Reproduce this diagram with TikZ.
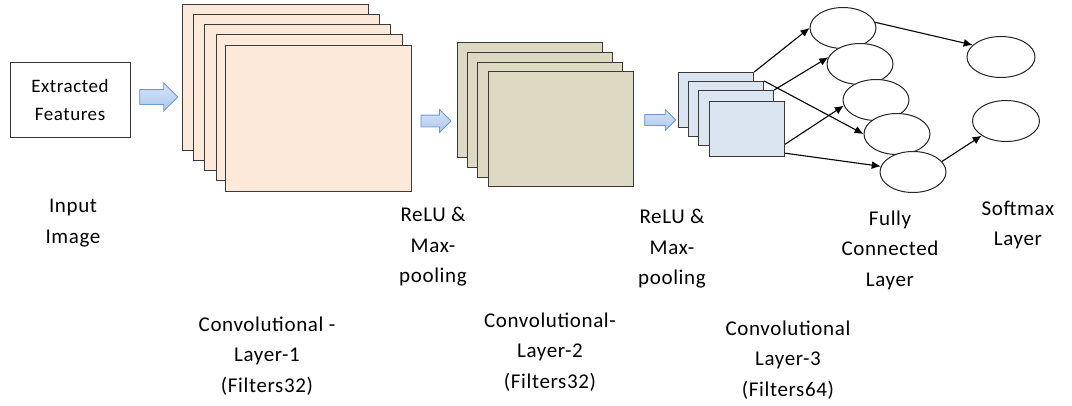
\documentclass[tikz,border=0pt]{standalone}
\usepackage{fontspec}
\setmainfont{Carlito}[LetterSpace=3]
\usetikzlibrary{shapes.geometric,shapes.arrows,arrows.meta,calc}
\definecolor{peach}{HTML}{FDE9D9}
\definecolor{khaki}{HTML}{DDD9C3}
\definecolor{paleblue}{HTML}{DBE5F1}
\definecolor{arrowfill}{HTML}{A9C6EE}
\definecolor{arrowdraw}{HTML}{6F98CF}
\definecolor{edgegray}{HTML}{3A3A3A}
\begin{document}
\begin{tikzpicture}[x=1pt,y=-1pt,
  fmap/.style={draw=edgegray, line width=1.2pt, anchor=north west, inner sep=0pt},
  fm1/.style={fmap, fill=peach, minimum width=186pt, minimum height=146pt},
  fm2/.style={fmap, fill=khaki, minimum width=145pt, minimum height=115pt},
  fm3/.style={fmap, fill=paleblue, minimum width=75pt, minimum height=55pt},
  barrow/.style={single arrow, draw=arrowdraw, line width=0.8pt, top color=arrowfill!45!white, bottom color=arrowfill, inner xsep=0pt},
  neuron/.style={ellipse, draw=black!85, line width=1pt, fill=white, minimum width=66pt, minimum height=41pt, inner sep=0pt},
  conn/.style={-{Latex[length=9pt,width=8pt]}, line width=1.1pt, black},
  lbl/.style={align=center, inner sep=0pt, font=\fontsize{21}{30.5}\selectfont}
]
\useasboundingbox (0,0) rectangle (1072,405);

% input box
\node[draw=black!80, line width=1pt, minimum width=120pt, minimum height=75pt, inner sep=0pt,
      align=center, font=\fontsize{19}{28}\selectfont] (inbox) at (70,99.5) {Extracted\\Features};

% block arrows
\node[barrow, minimum height=38pt, inner ysep=7pt, single arrow head extend=6.5pt] (ar1) at (155,97) {};
\node[barrow, minimum height=30pt, inner ysep=5.5pt, single arrow head extend=5.5pt] (ar2) at (433,121) {};
\node[barrow, minimum height=31pt, inner ysep=5pt, single arrow head extend=5pt] (ar3) at (657.5,120) {};

% conv layer 1
\node[fm1] (c1a) at (182,4) {};
\node[fm1] (c1b) at (193,14) {};
\node[fm1] (c1c) at (204,24) {};
\node[fm1] (c1d) at (216,34) {};
\node[fm1] (c1e) at (225,45) {};

% conv layer 2
\node[fm2] (c2a) at (457,42) {};
\node[fm2] (c2b) at (467,52) {};
\node[fm2] (c2c) at (477,62) {};
\node[fm2] (c2d) at (488,71) {};

% conv layer 3
\node[fm3] (c3a) at (678,72) {};
\node[fm3] (c3b) at (688,81) {};
\node[fm3] (c3c) at (698,90) {};
\node[fm3] (c3d) at (709,101) {};

% fully connected neurons
\node[neuron] (f1) at (843,28) {};
\node[neuron] (f2) at (860,64) {};
\node[neuron] (f3) at (876,100) {};
\node[neuron] (f4) at (897,134) {};
\node[neuron] (f5) at (913,172) {};

% softmax neurons
\node[neuron, minimum width=68pt] (s1) at (1001,57) {};
\node[neuron, minimum width=67pt] (s2) at (1006,121) {};

% connectors
\draw[conn] (c3a.north east) -- (f1.west);
\draw[conn] (c3c.north east) -- (f2.168);
\draw[conn] (c3b.north east) -- (f4.west);
\draw[conn] ($(c3d.south east)+(0,-13)$) -- (f3.190);
\draw[conn] ($(c3d.south east)+(0,-4)$) -- (f5.170);
\draw[conn] (f1.10) -- (s1.157);
\draw[conn] (f5.20) -- (s2.211);

% labels
\node[lbl] (inp) at (73,223) {Input\\Image};
\node[lbl] (relu1) at (433,247) {ReLU \&\\Max-\\pooling};
\node[lbl] (relu2) at (672,249) {ReLU \&\\Max-\\pooling};
\node[lbl] (fc) at (890,250) {Fully\\Connected\\Layer};
\node[lbl] (sm) at (1018,225) {Softmax\\Layer};
\node[lbl] (cl1) at (267,356) {Convolutional -\\Layer-1\\(Filters32)};
\node[lbl] (cl2) at (550,352) {Convolutional-\\Layer-2\\(Filters32)};
\node[lbl] (cl3) at (788,360) {Convolutional\\Layer-3\\(Filters64)};
\end{tikzpicture}
\end{document}
